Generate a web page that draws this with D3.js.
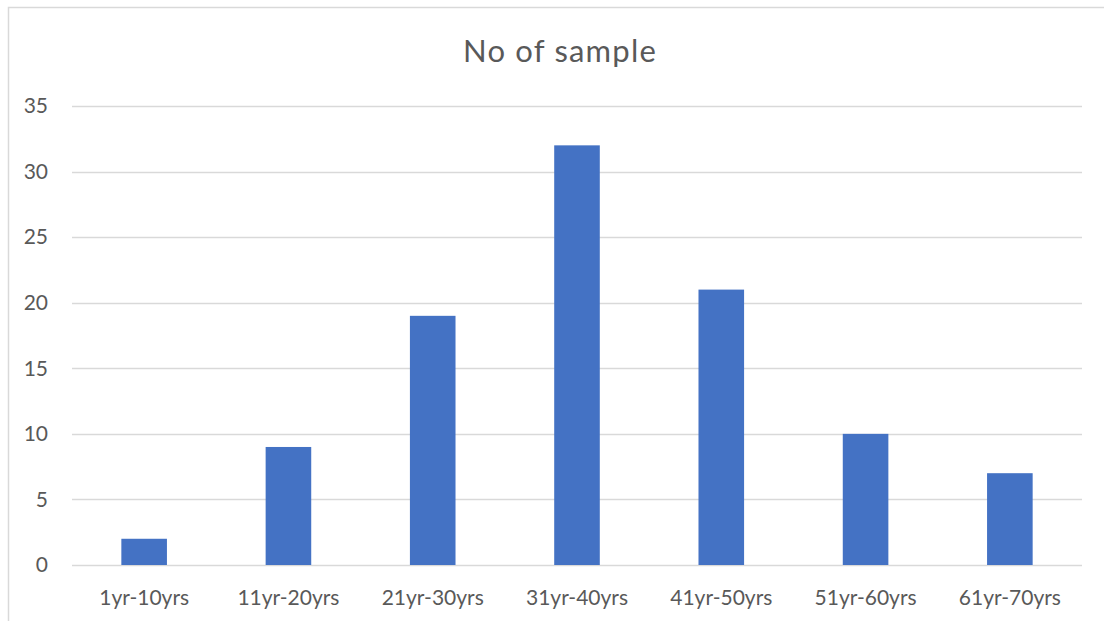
<!DOCTYPE html>
<html>
<head>
<meta charset="utf-8">
<script src="https://cdn.jsdelivr.net/npm/d3@7"></script>
<style>
  html, body { margin: 0; padding: 0; background: #fff; }
  svg { display: block; }
  text { font-family: Lato, "Open Sans", sans-serif; fill: #595959; }
</style>
</head>
<body>
<svg id="chart" width="1104" height="621"></svg>
<script>
// Age groups and sample counts
const categories = ["1yr-10yrs", "11yr-20yrs", "21yr-30yrs", "31yr-40yrs", "41yr-50yrs", "51yr-60yrs", "61yr-70yrs"];
const samples = [2, 9, 19, 32, 21, 10, 7];
const yTicks = [0, 5, 10, 15, 20, 25, 30, 35];
const title = "No of sample";

const svg = d3.select("#chart");
const W = 1104, H = 621;
const margin = { left: 72, right: 22, top: 106, bottom: 56 };

// chart frame
svg.append("rect")
  .attr("x", 8.5).attr("y", 7.5)
  .attr("width", W + 10).attr("height", H + 10)
  .attr("fill", "none").attr("stroke", "#d9d9d9").attr("stroke-width", 1.5);

const x = d3.scaleBand()
  .domain(categories)
  .range([margin.left, W - margin.right])
  .paddingInner(0.684)
  .paddingOuter(0.342);

const y = d3.scaleLinear()
  .domain([0, 35])
  .range([H - margin.bottom, margin.top]);

// gridlines
svg.append("g")
  .selectAll("line")
  .data(yTicks)
  .join("line")
  .attr("x1", margin.left).attr("x2", W - margin.right)
  .attr("y1", d => Math.round(y(d)) + 0.5).attr("y2", d => Math.round(y(d)) + 0.5)
  .attr("stroke", "#d9d9d9").attr("stroke-width", 1.3);

// y axis labels
const yAxis = svg.append("g")
  .attr("transform", `translate(${margin.left},0)`)
  .call(d3.axisLeft(y).tickValues(yTicks).tickSize(0).tickPadding(24));
yAxis.select(".domain").remove();
yAxis.selectAll("text")
  .style("font-family", "Lato, 'Open Sans', sans-serif")
  .style("font-size", "21px")
  .attr("fill", "#595959");

// bars
svg.append("g")
  .selectAll("rect")
  .data(categories.map((c, i) => ({ c, v: samples[i] })))
  .join("rect")
  .attr("x", d => x(d.c))
  .attr("width", x.bandwidth())
  .attr("y", d => y(d.v))
  .attr("height", d => y(0) - y(d.v))
  .attr("fill", "#4472c4");

// x axis labels
const xAxis = svg.append("g")
  .attr("transform", `translate(0,${y(0)})`)
  .call(d3.axisBottom(x).tickSize(0).tickPadding(25));
xAxis.select(".domain").remove();
xAxis.selectAll("text")
  .style("font-family", "Lato, 'Open Sans', sans-serif")
  .style("font-size", "21px")
  .attr("fill", "#595959");

// title
svg.append("text")
  .attr("x", 560)
  .attr("y", 62)
  .attr("text-anchor", "middle")
  .style("font-size", "31px")
  .style("letter-spacing", "1.2px")
  .text(title);
</script>
</body>
</html>
